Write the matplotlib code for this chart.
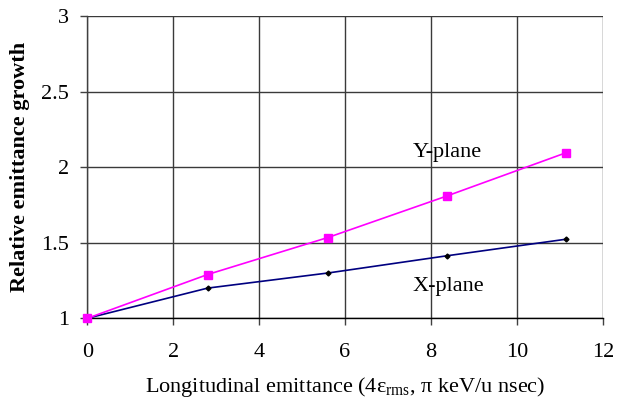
import matplotlib
matplotlib.use('Agg')
import matplotlib.pyplot as plt

plt.rcParams['font.family'] = ['Liberation Serif', 'DejaVu Serif']
plt.rcParams['mathtext.fontset'] = 'custom'
plt.rcParams['mathtext.rm'] = 'Liberation Serif'
plt.rcParams['mathtext.it'] = 'Liberation Serif:italic'
plt.rcParams['mathtext.bf'] = 'Liberation Serif:bold'

# data
long_emit = [0.0, 2.80, 5.60, 8.37, 11.15]
y_plane = [1.0, 1.29, 1.535, 1.81, 2.097]
x_plane = [1.0, 1.20, 1.30, 1.414, 1.524]
xticks = [0, 2, 4, 6, 8, 10, 12]
yticks = [1, 1.5, 2, 2.5, 3]
ytick_labels = ['1', '1.5', '2', '2.5', '3']

fig = plt.figure(figsize=(6.17, 4.04), dpi=100)
ax = fig.add_axes([0.1415, 0.2121, 0.977 - 0.1415, 0.9597 - 0.2121])

ax.plot(long_emit, x_plane, color='#000080', lw=1.2, marker='D', ms=2.5,
        mfc='black', mec='black', clip_on=False, zorder=3)
ax.plot(long_emit, y_plane, color='#FF00FF', lw=1.2, marker='s', ms=6,
        mfc='#FF00FF', mec='#FF00FF', clip_on=False, zorder=4)

ax.text(7.57, 2.07, 'Y-plane', fontsize=16, va='baseline', ha='left', zorder=1)
ax.text(7.57, 1.178, 'X-plane', fontsize=16, va='baseline', ha='left', zorder=1)

ax.set_xlim(0, 12)
ax.set_ylim(1, 3)
ax.set_xticks(xticks)
ax.set_yticks(yticks)
ax.set_yticklabels(ytick_labels)
ax.tick_params(labelsize=16, direction='out', length=5, width=1, color='#404040')
ax.tick_params(axis='x', pad=13)
ax.tick_params(axis='y', pad=8)

ax.grid(True, color='#3a3a3a', lw=1)
ax.set_axisbelow(True)
for s in ['top', 'right']:
    ax.spines[s].set_visible(False)
ax.spines['left'].set_color('#404040')
ax.spines['left'].set_linewidth(1)
ax.spines['bottom'].set_color('black')
ax.spines['bottom'].set_linewidth(1)

ax.set_xlabel('Longitudinal emittance (4ε$_{\\rm rms}$, π keV/u nsec)', fontsize=16, labelpad=9)
ax.set_ylabel('Relative emittance growth', fontsize=16, fontweight='bold', labelpad=8)

fig.savefig('out.png', dpi=100)
